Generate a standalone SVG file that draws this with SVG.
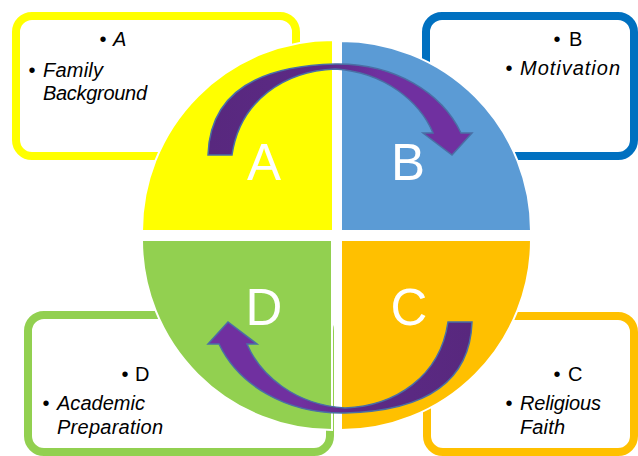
<svg xmlns="http://www.w3.org/2000/svg" xmlns:xlink="http://www.w3.org/1999/xlink" width="638" height="456" viewBox="0 0 638 456">
<style>
.box{fill:#FFFFFF;stroke-width:8}
.t{font-family:"Liberation Sans",Arial,sans-serif;font-size:20px;fill:#000000}
.i{font-style:italic}
.big{font-family:"Liberation Sans",Arial,sans-serif;font-size:51px;fill:#FFFFFF;text-anchor:middle}
.q{stroke:#FFFFFF;stroke-width:2}
.arrow{fill:url(#ag);stroke:#4A6FA5;stroke-width:1.5;stroke-linejoin:miter}
</style>
<defs>
<linearGradient id="ag" gradientUnits="userSpaceOnUse" x1="210" y1="0" x2="470" y2="0">
<stop offset="0" stop-color="#58287E"/>
<stop offset="0.45" stop-color="#5C2A86"/>
<stop offset="0.65" stop-color="#7030A0"/>
<stop offset="1" stop-color="#7030A0"/>
</linearGradient>
<path id="arrowShape" d="M 208 155 C 210 95, 255 66, 335 64 C 395 63, 442 93, 461 133 L 472 133 L 452 155 L 423 133 L 433 133 C 420 102, 385 72, 335 69 C 285 71, 240 100, 232 155 Z"/>
</defs>
<rect width="638" height="456" fill="#FFFFFF"/>

<g id="box-A">
<rect class="box" x="16" y="16" width="280" height="140" rx="16" stroke="#FFFF00"/>
<text class="t" x="103" y="46" text-anchor="middle">•</text>
<text class="t i" x="113" y="46">A</text>
<text class="t" x="32" y="77" text-anchor="middle">•</text>
<text class="t i" x="43" y="77" textLength="60">Family</text>
<text class="t i" x="43" y="100" textLength="104">Background</text>
</g>

<g id="box-B">
<rect class="box" x="426" y="16" width="208" height="140" rx="16" stroke="#0070C0"/>
<text class="t" x="557" y="46" text-anchor="middle">•</text>
<text class="t" x="569" y="46">B</text>
<text class="t" x="509" y="75" text-anchor="middle">•</text>
<text class="t i" x="520" y="75" textLength="100">Motivation</text>
</g>

<g id="box-D">
<rect class="box" x="28" y="315" width="302" height="137" rx="16" stroke="#92D050"/>
<text class="t" x="125" y="381" text-anchor="middle">•</text>
<text class="t" x="135" y="381">D</text>
<text class="t" x="46" y="410" text-anchor="middle">•</text>
<text class="t i" x="57" y="410" textLength="88">Academic</text>
<text class="t i" x="57" y="434" textLength="106">Preparation</text>
</g>

<g id="box-C">
<rect class="box" x="427" y="316" width="207" height="136" rx="16" stroke="#FFC000"/>
<text class="t" x="557" y="381" text-anchor="middle">•</text>
<text class="t" x="568" y="381">C</text>
<text class="t" x="509" y="410" text-anchor="middle">•</text>
<text class="t i" x="520" y="410" textLength="81">Religious</text>
<text class="t i" x="520" y="434" textLength="45">Faith</text>
</g>

<g id="sector-A">
<path class="q" fill="#FFFF00" d="M 333 231 L 142 231 A 191 191 0 0 1 333 40 Z"/>
<text class="big" x="264" y="180">A</text>
</g>
<g id="sector-B">
<path class="q" fill="#5B9BD5" d="M 341 231 L 341 41 A 190 190 0 0 1 531 231 Z"/>
<text class="big" x="408" y="180">B</text>
</g>
<g id="sector-D">
<path class="q" fill="#92D050" d="M 332 240 L 332 430 A 190 190 0 0 1 142 240 Z"/>
<text class="big" x="264" y="325">D</text>
</g>
<g id="sector-C">
<path class="q" fill="#FFC000" d="M 341 240 L 531 240 A 190 190 0 0 1 341 430 Z"/>
<text class="big" x="409" y="325">C</text>
</g>

<g id="connectors">
<use xlink:href="#arrowShape" href="#arrowShape" class="arrow"/>
<use xlink:href="#arrowShape" href="#arrowShape" class="arrow" transform="rotate(180 340 238.5)"/>
</g>
</svg>
